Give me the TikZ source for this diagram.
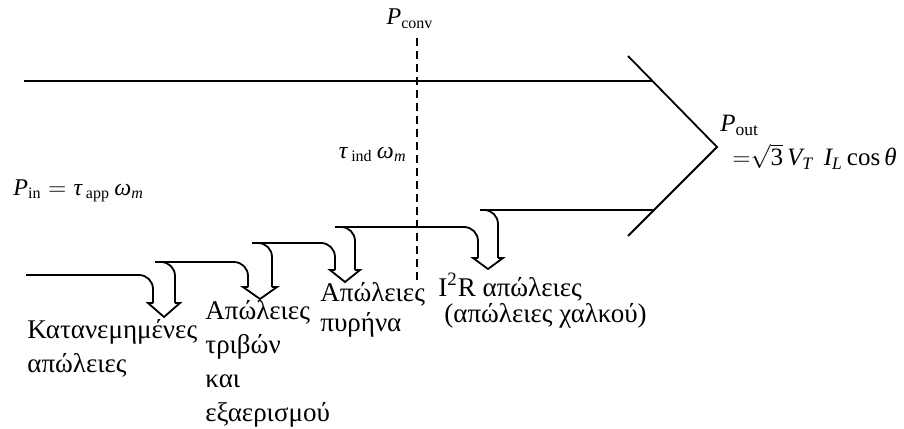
\documentclass[tikz,border=0pt]{standalone}
\usepackage{mathspec}
\setmainfont{Liberation Serif}
\setmathsfont(Digits,Latin,Greek){Liberation Serif}
\setmathrm{Liberation Serif}
\usetikzlibrary{positioning}

\begin{document}
\begin{tikzpicture}[x=0.5pt,y=-0.5pt,
  band/.style={line width=0.9pt,line join=miter},
  flow/.style={line width=0.9pt,rounded corners=7pt},
  lbl/.style={font=\fontsize{13.5}{17}\selectfont,inner sep=0pt,align=left,anchor=north west},
  sym/.style={font=\fontsize{12}{14}\selectfont,inner sep=0pt}]
  \useasboundingbox (0,0) rectangle (904,428);

  % Power band and output chevron
  \draw[band] (24,81) -- (652,81);
  \draw[band] (628,56) -- (717,147) -- (628,236);
  \draw[band] (480,210) -- (655,210);

  % Converted power
  \draw[band,dash pattern=on 4pt off 2.5pt] (417,38) -- (417,283);
  \node[sym,anchor=base] (pconv) at (410,25) {$P_{\mathrm{conv}}$};
  \node[sym,anchor=base east] (tind) at (407,158) {$\tau_{\,\mathrm{ind}}\,\omega_m$};

  % Input and output
  \node[sym,anchor=base west] (pin) at (13,195) {$P_{\mathrm{in}} = \tau_{\,\mathrm{app}}\,\omega_m$};
  \node[sym,font=\fontsize{12.5}{17}\selectfont,align=left,anchor=north west] (pout) at (720,115)
    {$P_{\mathrm{out}}$\\\hspace{6pt}${=}\sqrt{3}\,V_T\;\,I_L\cos\theta$};

  % Loss 1
  \draw[flow] (26,275) -- (153,275) -- (153,303);
  \draw[band] (153,303) -- (148,303) -- (164,317) -- (180,303) -- (175,303);
  \draw[flow] (175,303) -- (175,262) -- (157,262);
  \node[lbl] (loss1) at (27,319) {Κατανεμημένες\\απώλειες};

  % Loss 2
  \draw[flow] (155,262) -- (248,262) -- (248,287);
  \draw[band] (248,287) -- (243,287) -- (260,299) -- (277,287) -- (272,287);
  \draw[flow] (272,287) -- (272,243) -- (254,243);
  \node[lbl] (loss2) at (205,300) {Απώλειες\\τριβών\\και\\εξαερισμού};

  % Loss 3
  \draw[flow] (252,243) -- (335,243) -- (335,270);
  \draw[band] (335,270) -- (330,270) -- (345,282) -- (360,270) -- (355,270);
  \draw[flow] (355,270) -- (355,227) -- (337,227);
  \node[lbl,font=\fontsize{13.5}{15}\selectfont] (loss3) at (320,282) {Απώλειες\\πυρήνα};

  % Loss 4
  \draw[flow] (335,227) -- (478,227) -- (478,258);
  \draw[band] (478,258) -- (473,258) -- (488,269) -- (503,258) -- (498,258);
  \draw[flow] (498,258) -- (498,210) -- (482,210);
  \node[lbl,font=\fontsize{13.5}{13}\selectfont] (loss4) at (438,273) {I\textsuperscript{2}R απώλειες\\\hspace{3pt}(απώλειες χαλκού)};
\end{tikzpicture}
\end{document}
